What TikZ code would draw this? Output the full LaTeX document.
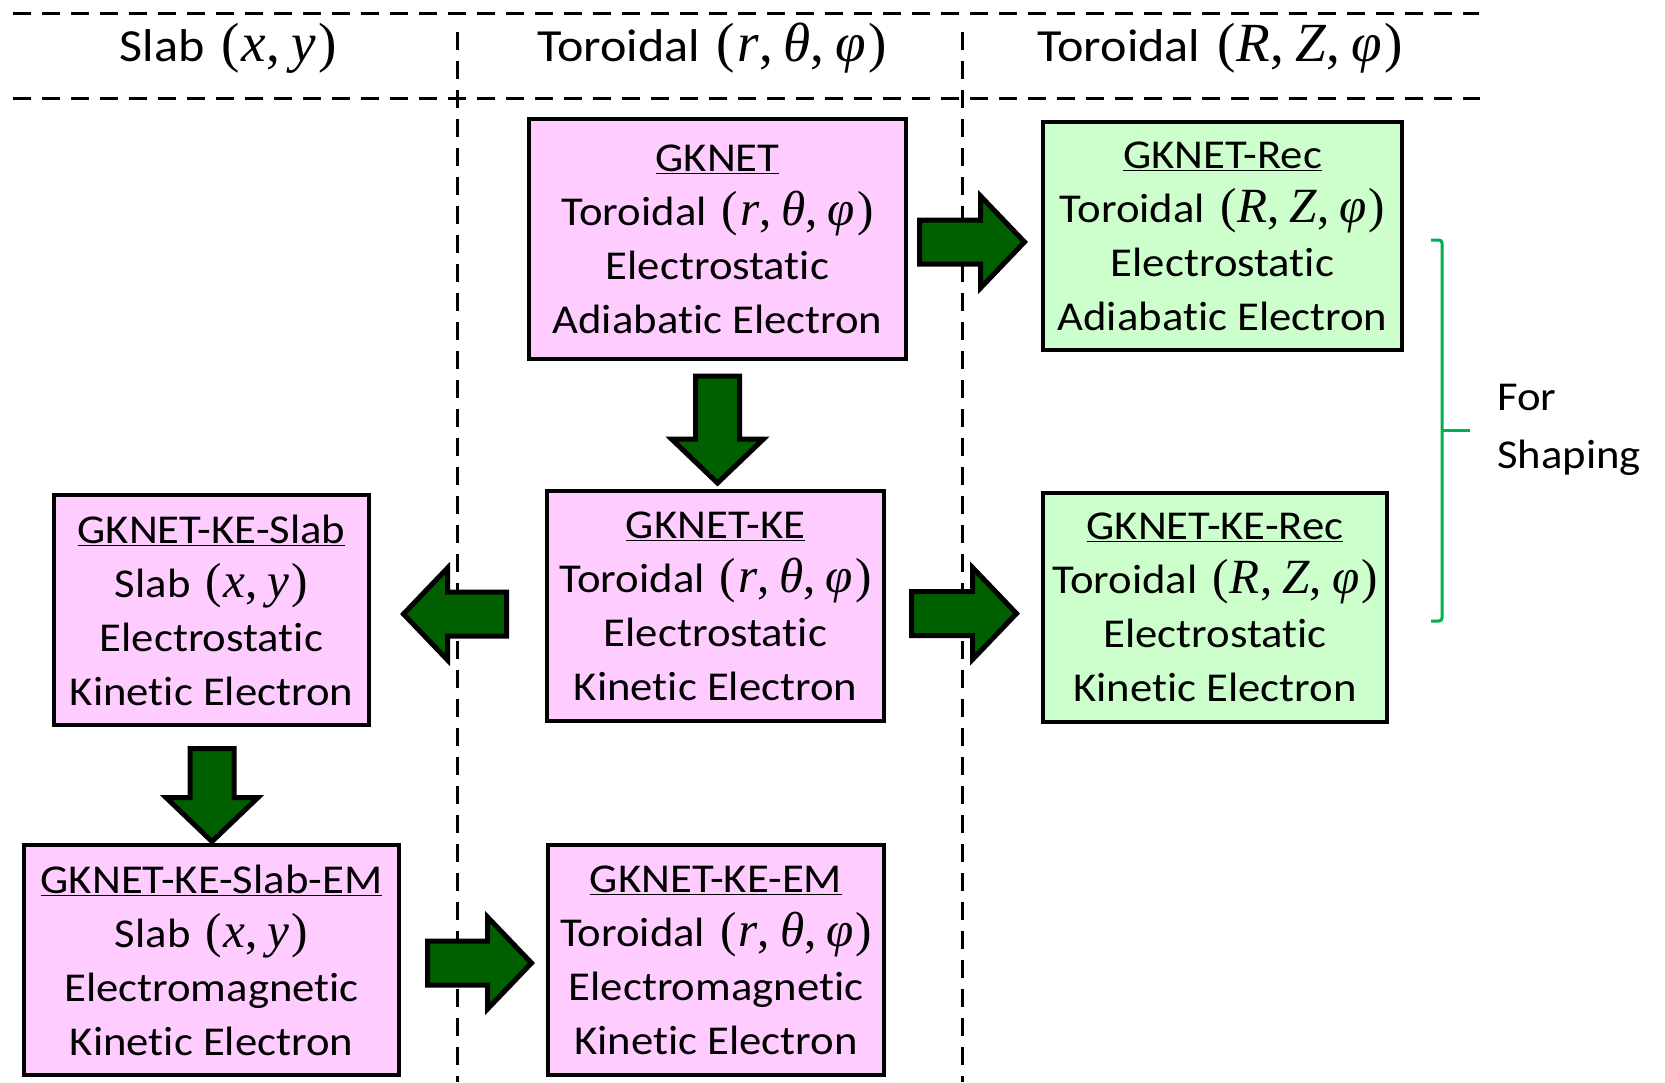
\documentclass[tikz,border=0pt]{standalone}
\usepackage{fontspec}
\setmainfont{Carlito}[FakeStretch=1.09, Ligatures=NoCommon]
\newfontfamily\crdfont{Liberation Serif}[Scale=1.2]
\newcommand\crdgap{,\hspace{0.2em}}
\newcommand\crdRTP{\hspace{0.12em}{\crdfont(\hspace{0.04em}\textit{r}\crdgap\textit{θ}\crdgap\textit{φ}\hspace{0.04em})}}
\newcommand\crdRZP{\hspace{0.12em}{\crdfont(\hspace{0.02em}\textit{R}\crdgap\textit{Z}\crdgap\textit{φ}\hspace{0.04em})}}
\newcommand\crdXY{\hspace{0.12em}{\crdfont(\hspace{0.04em}\textit{x}\crdgap\textit{y}\hspace{0.04em})}}
\usetikzlibrary{calc}
\definecolor{pinkfill}{HTML}{FFCCFF}
\definecolor{greenfill}{HTML}{CCFFCC}
\definecolor{arrowgreen}{HTML}{006000}
\definecolor{brackgreen}{HTML}{00B050}
\tikzset{
  box/.style={draw=black, line width=4, inner sep=0, align=center,
    font=\fontsize{41}{54}\selectfont},
  pinkbox/.style={box, fill=pinkfill},
  greenbox/.style={box, fill=greenfill},
  header/.style={anchor=base, inner sep=0, font=\fontsize{46}{54}\selectfont},
  sidelabel/.style={anchor=west, inner sep=0, align=left, font=\fontsize{41}{58}\selectfont},
  divider/.style={line width=3, dash pattern=on 18pt off 11pt},
  brack/.style={draw=brackgreen, line width=3, rounded corners=3},
  barrow/.style={draw=black, line width=5, fill=arrowgreen, line join=miter},
  pics/blockarr/.style={code={
    \draw[barrow] (0,-22) -- ({#1-44},-22) -- ({#1-44},-46) -- (#1,0)
      -- ({#1-44},46) -- ({#1-44},22) -- (0,22) -- cycle;
  }}
}
\begin{document}
\begin{tikzpicture}[x=1pt, y=-1pt]
\useasboundingbox (0,0) rectangle (1665,1082);
% dividers
\draw[divider] (13,13) -- (1479,13);
\draw[divider] (13,98) -- (1480,98);
\draw[divider] (457,32) -- (457,1082);
\draw[divider] (962,32) -- (962,1082);
% headers
\node[header] (h1) at (228,61) {Slab \crdXY};
\node[header] (h2) at (712,61) {Toroidal \crdRTP};
\node[header] (h3) at (1220,61) {Toroidal \crdRZP};
% boxes
\node[pinkbox, minimum width=377, minimum height=240] (gk) at (717.5,239)
  {\underline{GKNET}\\Toroidal \crdRTP\\Electrostatic\\Adiabatic Electron};
\node[greenbox, minimum width=359, minimum height=228] (gkrec) at (1222.5,236)
  {\underline{GKNET-Rec}\\Toroidal \crdRZP\\Electrostatic\\Adiabatic Electron};
\node[pinkbox, minimum width=337, minimum height=230] (gkke) at (715.5,606)
  {\underline{GKNET-KE}\\Toroidal \crdRTP\\Electrostatic\\Kinetic Electron};
\node[greenbox, minimum width=344, minimum height=229] (gkkerec) at (1215,607.5)
  {\underline{GKNET-KE-Rec}\\Toroidal \crdRZP\\Electrostatic\\Kinetic Electron};
\node[pinkbox, minimum width=315, minimum height=230] (slab) at (211.5,610)
  {\underline{GKNET-KE-Slab}\\Slab \crdXY\\Electrostatic\\Kinetic Electron};
\node[pinkbox, minimum width=375, minimum height=230] (slabem) at (211.5,960)
  {\underline{GKNET-KE-Slab-EM}\\Slab \crdXY\\Electromagnetic\\Kinetic Electron};
\node[pinkbox, minimum width=336, minimum height=230] (keem) at (716,960)
  {\underline{GKNET-KE-EM}\\Toroidal \crdRTP\\Electromagnetic\\Kinetic Electron};
% block arrows (tails anchored to the source nodes)
\coordinate (t1) at ($(gk.east)+(11.5,3)$);
\coordinate (t2) at ($(gk.south)+(0,15)$);
\coordinate (t3) at ($(gkke.east)+(25.5,7.5)$);
\coordinate (t4) at ($(gkke.west)+(-38.5,8)$);
\coordinate (t5) at ($(slab.south)+(0.5,21.5)$);
\coordinate (t6) at ($(slabem.east)+(26.5,3)$);
\pic at (t1) {blockarr=105};
\pic[rotate=-90] at (t2) {blockarr=107};
\pic at (t3) {blockarr=105};
\pic[rotate=180] at (t4) {blockarr=103};
\pic[rotate=-90] at (t5) {blockarr=93};
\pic at (t6) {blockarr=104};
% bracket
\draw[brack] (1431,240) -- (1442,240) -- (1442,621) -- (1431,621);
\draw[brack] (1442,430) -- (1470,430);
\node[sidelabel] (shaping) at (1497,430) {For\\Shaping};
\end{tikzpicture}
\end{document}
